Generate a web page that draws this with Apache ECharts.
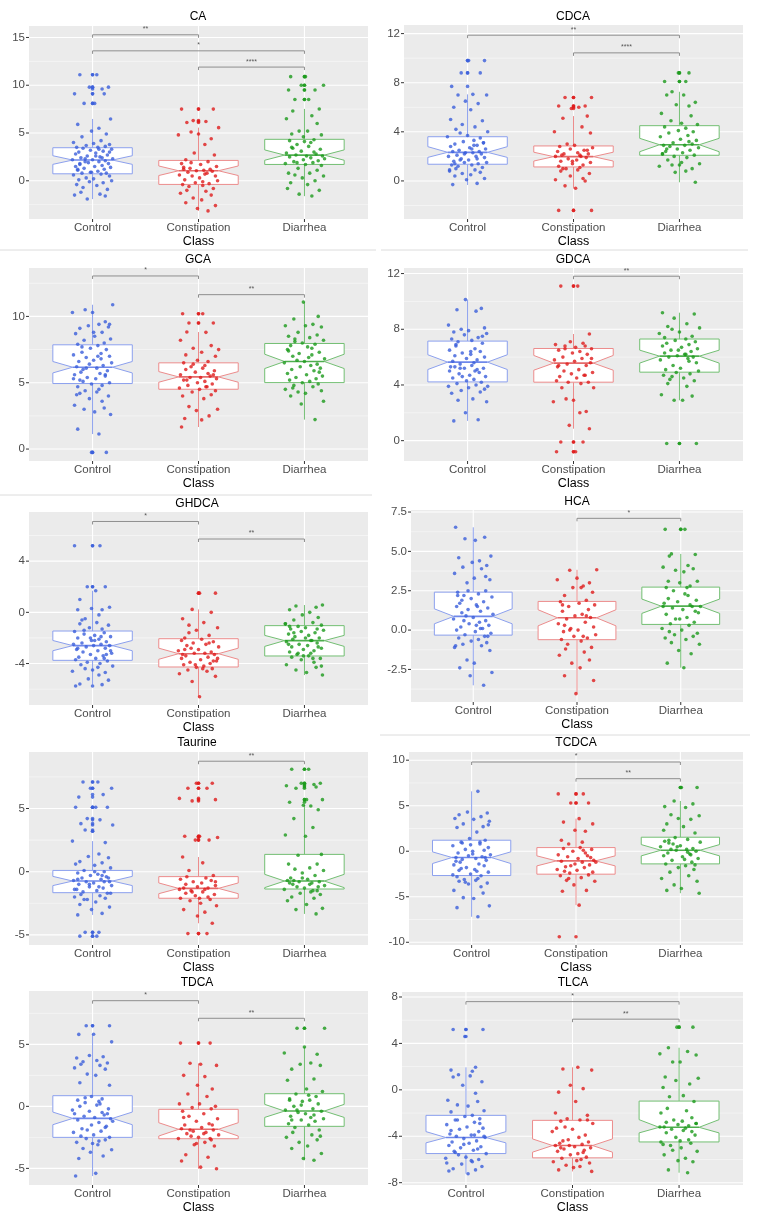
<!DOCTYPE html>
<html><head><meta charset="utf-8">
<script src="https://cdn.jsdelivr.net/npm/echarts@6/dist/echarts.min.js"></script>
<style>html,body{margin:0;padding:0;background:#fff}#c{width:761px;height:1221px}</style>
</head><body><div id="c"></div>
<script>
const CATEGORIES = ['Control','Constipation','Diarrhea'];
const PANEL_TITLES = ['CA','CDCA','GCA','GDCA','GHDCA','HCA','Taurine','TCDCA','TDCA','TLCA'];
const Y_TICKS = [[0,5,10,15],[0,4,8,12],[0,5,10],[0,4,8,12],[-4,0,4],[-2.5,0,2.5,5,7.5],[-5,0,5],[-10,-5,0,5,10],[-5,0,5],[-8,-4,0,4,8]];
const Y_RANGE = [[-4.0,16.2],[-3.1,12.7],[-0.9,13.65],[-1.46,12.4],[-7.24,7.84],[-4.57,7.63],[-5.8,9.47],[-10.3,10.9],[-6.34,9.3],[-8.2,8.43]];

// box stats per group: [lowerWhisker, q1, notchLow, median, notchHigh, q3, upperWhisker]
const CA_BOX = [[-1.92,0.73,1.72,2.17,2.62,3.46,6.47],[-3.15,-0.38,0.55,1.05,1.55,2.13,5.56],[-1.61,1.71,2.15,2.69,3.23,4.34,7.52]];
const CDCA_BOX = [[-0.33,1.36,1.92,2.33,2.79,3.6,7.05],[-0.6,1.14,1.62,1.98,2.34,2.85,5.28],[-0.11,2.09,2.38,2.95,3.47,4.5,7.26]];
const GCA_BOX = [[1.13,4.94,5.74,6.17,6.6,7.86,10.88],[1.66,4.51,5.04,5.44,5.84,6.5,8.82],[2.22,5.01,6.07,6.6,7.15,7.96,11.08]];
const GDCA_BOX = [[1.42,4.22,5.11,5.64,6.17,7.15,10.13],[0.86,4.2,5.06,5.57,6.12,6.62,7.66],[2.9,4.92,5.57,6.07,6.5,7.3,9.19]];
const GHDCA_BOX = [[-5.65,-3.75,-3.0,-2.6,-2.2,-1.46,1.69],[-6.59,-4.27,-3.67,-3.23,-2.8,-2.06,0.23],[-4.9,-3.41,-2.66,-2.21,-1.8,-1.04,0.57]];
const HCA_BOX = [[-3.51,-0.32,0.4,0.87,1.35,2.41,6.53],[-4.04,-0.61,0.27,0.78,1.29,1.82,3.83],[-2.39,0.36,1.06,1.52,1.97,2.73,4.84]];
const TAURINE_BOX = [[-3.42,-1.66,-1.1,-0.74,-0.37,0.1,2.42],[-4.08,-2.1,-1.74,-1.32,-0.89,-0.39,1.16],[-3.34,-1.37,-1.26,-0.74,-0.21,1.37,5.26]];
const TCDCA_BOX = [[-7.2,-2.67,-1.35,-0.69,-0.07,1.21,6.58],[-5.92,-2.52,-1.61,-1.06,-0.51,0.4,3.58],[-4.61,-1.39,-0.51,0.11,0.73,1.54,5.52]];
const TDCA_BOX = [[-5.62,-2.5,-1.48,-0.97,-0.46,0.86,5.81],[-5.03,-2.61,-2.39,-1.85,-1.32,-0.24,3.47],[-4.35,-1.61,-0.89,-0.38,0.16,1.02,4.78]];
const TLCA_BOX = [[-7.23,-5.49,-4.57,-4.11,-3.6,-2.2,1.94],[-7.03,-5.86,-5.37,-4.8,-4.23,-2.63,1.94],[-7.14,-4.49,-3.71,-3.23,-2.57,-0.97,3.63]];

// significance brackets: [fromGroup, toGroup, y, label]
const CA_SIG = [[0,1,15.28,'**'],[0,2,13.6,'*'],[1,2,11.9,'****']];
const CDCA_SIG = [[0,2,11.87,'**'],[1,2,10.43,'****']];
const GCA_SIG = [[0,1,13.05,'*'],[1,2,11.64,'**']];
const GDCA_SIG = [[1,2,11.81,'**']];
const GHDCA_SIG = [[0,1,7.1,'*'],[1,2,5.73,'**']];
const HCA_SIG = [[1,2,7.1,'*']];
const TAURINE_SIG = [[1,2,8.74,'**']];
const TCDCA_SIG = [[0,2,9.8,'*'],[1,2,7.97,'**']];
const TDCA_SIG = [[0,1,8.52,'*'],[1,2,7.1,'**']];
const TLCA_SIG = [[0,2,7.6,'*'],[1,2,6.09,'**']];

// horizontal jitter offsets (category units)
const JITTER = [0.04,-0.12,0.15,-0.03,0.09,-0.17,0.11,-0.08,0.02,0.17,-0.14,0.06,-0.01,0.13,-0.10,0.08,-0.18,0.01,0.16,-0.06,0.12,-0.15,0.05,-0.09,0.18,-0.02,0.10,-0.13,0.03,-0.16,0.14,-0.05,0.07,-0.11,0.19,-0.07,0.00,-0.19,0.12,0.06,-0.04,0.15,-0.12,0.09,-0.16,0.02,0.17,-0.08,0.11,-0.14,0.05,-0.02,0.13,-0.10,0.08,-0.18,0.16,-0.06,0.01,-0.13,0.18,-0.03,0.10,-0.15,0.04,-0.09,0.14,-0.11,0.07,-0.17,0.12,-0.05,0.03,-0.12,0.16,-0.01,0.09,-0.14,0.06,-0.07];

const CA_CONTROL = [11.1,11.1,9.8,9.8,9.6,9.1,9.1,8.1,8.1,6.47,5.9,5.5,5.2,4.9,4.6,4.2,4.0,3.9,3.8,3.7,3.6,3.5,3.5,3.4,3.3,3.2,3.1,3.0,2.9,2.8,2.7,2.6,2.5,2.4,2.3,2.3,2.2,2.2,2.1,2.0,1.9,1.8,1.7,1.6,1.5,1.5,1.4,1.3,1.2,1.1,1.0,0.9,0.8,0.8,0.7,0.6,0.5,0.3,0.2,0.1,0.0,-0.1,-0.2,-0.4,-0.5,-0.7,-0.9,-1.2,-1.4,-1.5,-1.6,-1.9,2.6,1.8,3.0,0.9,2.4,1.2,3.3,2.0];
const CA_CONSTIPATION = [7.5,7.5,6.3,6.2,6.1,5.56,5.1,4.9,4.8,4.4,3.8,2.9,2.7,2.2,2.0,1.8,1.7,1.5,1.3,1.2,1.2,1.1,1.05,1.0,0.9,0.8,0.6,0.5,0.5,0.3,0.1,0.0,-0.2,-0.3,-0.4,-0.5,-0.6,-0.8,-1.0,-1.1,-1.3,-1.5,-1.8,-2.0,-2.3,-2.6,-2.9,-3.15,1.4,0.7,1.9,-0.1];
const CA_DIARRHEA = [10.9,10.9,10.0,10.0,9.5,9.5,8.5,8.5,7.52,7.3,6.8,6.5,6.0,5.2,5.2,4.9,4.8,4.6,4.3,4.2,4.0,3.8,3.6,3.5,3.3,3.1,3.0,2.9,2.8,2.7,2.6,2.6,2.5,2.4,2.2,2.1,2.0,1.9,1.8,1.7,1.6,1.3,1.1,0.8,0.8,0.6,0.5,0.3,0.0,-0.2,-0.4,-0.8,-1.0,-1.4,-1.6,3.4,2.3,1.9,4.1];

const CDCA_CONTROL = [9.8,9.8,8.8,8.8,7.7,7.05,7.0,7.0,6.5,6.3,6.0,5.8,5.0,4.9,4.6,4.4,4.2,4.0,3.9,3.7,3.6,3.5,3.3,3.2,3.1,3.0,2.9,2.8,2.7,2.6,2.5,2.4,2.4,2.3,2.3,2.2,2.1,2.0,2.0,1.9,1.8,1.7,1.6,1.5,1.5,1.4,1.3,1.3,1.2,1.1,1.0,0.9,0.8,0.7,0.6,0.5,0.4,0.2,0.1,-0.2,-0.3,2.9,1.7,2.6,1.4,3.1,2.2,1.8,0.9];
const CDCA_CONSTIPATION = [6.8,6.8,6.1,6.1,6.0,5.9,5.28,5.1,4.4,4.0,3.9,3.0,2.9,2.8,2.7,2.6,2.5,2.4,2.3,2.2,2.2,2.1,2.0,2.0,1.9,1.8,1.7,1.6,1.5,1.4,1.3,1.2,1.1,1.0,0.9,0.8,0.6,0.4,0.2,0.1,0.0,-0.4,-0.6,-2.4,-2.4,2.1,1.6,2.5,1.0];
const CDCA_DIARRHEA = [8.8,8.8,8.1,8.1,7.26,7.0,7.0,6.4,6.2,6.1,5.5,5.3,4.9,4.7,4.6,4.4,4.3,4.1,4.0,3.9,3.7,3.6,3.4,3.3,3.1,3.0,2.9,2.9,2.8,2.7,2.6,2.5,2.4,2.3,2.2,2.1,2.0,1.9,1.7,1.4,1.3,1.3,1.2,1.0,0.8,0.7,-0.11,2.6,3.2,2.2,1.5];

const GCA_CONTROL = [10.88,10.5,10.3,10.3,9.6,9.4,9.3,9.2,9.1,8.8,8.7,8.5,8.3,8.2,8.0,7.9,7.8,7.6,7.5,7.3,7.2,7.1,7.0,6.9,6.7,6.6,6.5,6.4,6.3,6.2,6.1,6.0,5.9,5.8,5.7,5.6,5.5,5.4,5.3,5.2,5.0,4.9,4.8,4.7,4.5,4.4,4.3,4.2,4.0,3.8,3.6,3.3,3.1,3.0,2.8,2.6,1.5,1.13,-0.25,-0.25,7.7,6.8,5.3,8.8,9.4,6.1,5.6,4.1,7.0,5.1];
const GCA_CONSTIPATION = [10.2,10.2,9.5,9.5,8.82,8.8,8.2,7.8,7.6,7.3,7.1,7.0,6.7,6.6,6.5,6.3,6.2,6.1,6.0,5.9,5.8,5.7,5.6,5.5,5.4,5.4,5.3,5.2,5.1,5.0,4.9,4.8,4.7,4.6,4.5,4.4,4.3,4.1,4.0,3.8,3.2,3.0,2.9,2.5,2.3,2.2,1.66,5.6,6.4,4.7,5.2,7.5];
const GCA_DIARRHEA = [11.08,10.0,9.8,9.4,9.3,9.3,9.2,8.8,8.6,8.5,8.4,8.3,8.2,8.0,7.9,7.8,7.7,7.5,7.3,7.2,7.1,7.0,6.8,6.7,6.6,6.5,6.4,6.3,6.2,6.1,6.0,5.9,5.7,5.6,5.5,5.4,5.3,5.2,5.1,5.0,4.9,4.8,4.7,4.5,4.4,4.3,4.2,4.0,3.6,3.4,2.22,7.4,6.9,8.1,5.8,4.6,7.6];

const GDCA_CONTROL = [10.13,9.5,9.4,9.3,8.3,8.1,8.0,7.9,7.8,7.7,7.6,7.4,7.3,7.2,7.1,7.0,6.8,6.6,6.5,6.4,6.3,6.2,6.1,6.0,5.9,5.8,5.7,5.6,5.5,5.4,5.3,5.2,5.2,5.1,5.0,4.9,4.8,4.7,4.6,4.5,4.4,4.3,4.2,4.1,4.0,3.9,3.8,3.7,3.6,3.5,3.4,3.0,2.9,2.8,2.0,1.5,1.42,6.4,5.3,7.5,4.6,5.0,6.9,3.9,5.2];
const GDCA_CONSTIPATION = [11.1,11.1,7.66,7.1,7.0,6.9,6.8,6.8,6.7,6.6,6.5,6.4,6.3,6.2,6.0,5.9,5.8,5.7,5.6,5.5,5.4,5.3,5.1,5.0,4.9,4.8,4.7,4.6,4.5,4.3,4.2,4.2,4.1,3.8,3.8,3.0,2.9,2.8,2.1,2.0,1.1,0.86,-0.1,-0.1,-0.8,-0.8,5.9,6.6,4.7,5.4];
const GDCA_DIARRHEA = [9.19,9.1,8.8,8.4,8.2,8.1,8.0,7.8,7.7,7.5,7.3,7.2,7.1,7.0,6.9,6.8,6.7,6.6,6.5,6.4,6.3,6.2,6.1,6.0,6.0,5.9,5.8,5.6,5.4,5.2,5.1,5.0,4.9,4.8,4.7,4.5,4.4,4.3,4.1,3.9,3.3,3.2,2.9,2.9,-0.2,-0.2,6.5,5.7,7.4,6.2,4.6];

const GHDCA_CONTROL = [5.2,5.2,2.0,2.0,1.69,1.0,0.4,0.3,0.2,0.2,-0.2,-0.5,-0.8,-0.9,-1.0,-1.2,-1.3,-1.5,-1.6,-1.7,-1.8,-1.9,-2.0,-2.1,-2.2,-2.3,-2.4,-2.5,-2.5,-2.6,-2.6,-2.7,-2.8,-2.9,-3.0,-3.1,-3.2,-3.3,-3.4,-3.5,-3.6,-3.7,-3.8,-3.9,-4.0,-4.1,-4.2,-4.4,-4.5,-4.6,-4.7,-4.9,-5.2,-5.3,-5.6,-5.65,-5.75,-2.2,-3.0,-1.4,-3.6,-2.8,-4.3,-2.0,-3.3,-0.6,-1.9];
const GHDCA_CONSTIPATION = [1.5,1.5,0.23,0.0,-0.5,-0.8,-1.0,-1.2,-1.4,-1.8,-2.0,-2.1,-2.2,-2.3,-2.4,-2.5,-2.6,-2.7,-2.8,-2.9,-3.0,-3.1,-3.2,-3.2,-3.3,-3.4,-3.5,-3.6,-3.7,-3.8,-3.9,-4.0,-4.1,-4.2,-4.3,-4.4,-4.5,-4.6,-4.8,-5.0,-5.4,-6.59,-2.9,-3.6,-4.1,-2.4,-3.3,-4.4,-1.6,-3.8];
const GHDCA_DIARRHEA = [0.57,0.5,0.4,0.2,0.0,-0.2,-0.4,-0.6,-0.8,-0.9,-1.0,-1.1,-1.2,-1.3,-1.4,-1.5,-1.6,-1.7,-1.8,-1.9,-2.0,-2.1,-2.2,-2.3,-2.4,-2.5,-2.6,-2.7,-2.8,-2.9,-3.0,-3.1,-3.2,-3.3,-3.4,-3.5,-3.6,-3.7,-3.9,-4.1,-4.3,-4.5,-4.7,-4.9,-1.1,-2.2,-3.4,-2.7,-1.6,-3.6,-0.9,-2.0,-4.2,-3.2,-1.3,-2.5];

const HCA_CONTROL = [6.53,5.9,5.8,5.7,4.7,4.6,4.4,4.3,4.1,4.0,3.9,3.6,3.3,3.2,3.0,2.5,2.4,2.3,2.2,2.1,2.0,1.8,1.7,1.6,1.5,1.4,1.3,1.2,1.1,1.0,0.9,0.8,0.7,0.6,0.5,0.4,0.3,0.2,0.1,0.0,-0.1,-0.2,-0.3,-0.4,-0.5,-0.6,-0.7,-0.8,-0.9,-1.0,-1.1,-1.3,-1.9,-2.1,-2.4,-2.7,-2.9,-3.51,2.2,1.5,0.6,-0.4,1.9,0.1,-1.0,3.4,2.5,0.3];
const HCA_CONSTIPATION = [3.83,3.8,3.3,3.2,3.0,2.8,2.7,2.4,2.2,1.9,1.8,1.7,1.6,1.5,1.3,1.2,1.0,0.9,0.8,0.7,0.5,0.4,0.2,0.1,0.0,-0.1,-0.3,-0.4,-0.5,-0.6,-0.7,-0.9,-1.1,-1.2,-1.4,-1.6,-1.9,-2.1,-2.4,-2.9,-3.2,-4.04,0.9,1.6,-0.4,0.0,2.7,0.3];
const HCA_DIARRHEA = [6.4,6.4,4.84,4.8,4.7,4.1,4.0,3.9,3.8,3.7,3.1,3.1,3.0,2.8,2.7,2.7,2.5,2.3,2.0,1.9,1.8,1.6,1.5,1.5,1.4,1.3,1.1,1.0,0.8,0.7,0.5,0.4,0.3,0.1,0.0,-0.2,-0.3,-0.4,-0.5,-0.6,-0.8,-0.9,-1.3,-1.5,-2.1,-2.39,1.7,1.2,0.7,2.2,-0.1,1.5];

const TAURINE_CONTROL = [7.1,7.1,6.6,6.6,6.1,5.9,5.1,5.1,5.1,4.2,4.1,3.8,3.7,3.3,3.2,2.42,2.3,1.4,1.2,1.1,0.8,0.7,0.6,0.5,0.3,0.1,0.0,-0.1,-0.2,-0.3,-0.4,-0.5,-0.6,-0.7,-0.8,-0.8,-0.9,-1.0,-1.1,-1.2,-1.3,-1.4,-1.5,-1.6,-1.7,-1.8,-1.9,-2.0,-2.1,-2.2,-2.4,-2.6,-2.8,-3.0,-3.3,-3.42,-4.8,-4.8,-5.1,-5.1,-0.5,-1.0,-0.3,-1.4,-0.8,-2.2,0.0,-1.7,-0.6,-1.2];
const TAURINE_CONSTIPATION = [7.0,7.0,6.6,6.6,5.8,5.7,5.6,2.8,2.8,2.7,2.5,2.5,1.16,0.7,0.1,-0.3,-0.4,-0.5,-0.6,-0.7,-0.8,-0.9,-1.0,-1.1,-1.2,-1.3,-1.3,-1.4,-1.5,-1.6,-1.7,-1.8,-1.9,-2.0,-2.1,-2.2,-2.3,-2.5,-2.7,-3.0,-3.2,-3.5,-4.08,-4.9,-4.9,-1.4,-2.1,-0.8,-1.6];
const TAURINE_DIARRHEA = [8.1,8.1,7.0,7.0,6.9,6.8,6.7,6.6,5.7,5.7,5.5,5.2,5.26,4.9,4.2,3.5,2.9,2.8,1.37,1.3,0.6,0.6,0.3,0.2,0.1,-0.1,-0.3,-0.5,-0.6,-0.7,-0.8,-0.8,-0.9,-1.0,-1.1,-1.2,-1.3,-1.4,-1.5,-1.6,-1.7,-1.8,-2.0,-2.1,-2.3,-2.6,-2.9,-3.0,-3.34,-0.9,-1.0,-0.5,-1.2,-0.7,-1.5];

const TCDCA_CONTROL = [6.58,4.3,4.2,4.0,3.8,3.6,3.5,3.3,3.0,2.7,2.6,2.1,1.4,1.2,1.0,0.8,0.6,0.4,0.2,0.0,-0.2,-0.4,-0.5,-0.6,-0.7,-0.8,-0.9,-1.0,-1.2,-1.4,-1.5,-1.6,-1.8,-2.0,-2.1,-2.3,-2.5,-2.7,-2.8,-3.0,-3.1,-3.2,-3.3,-3.5,-3.6,-3.9,-4.3,-4.6,-5.1,-5.2,-6.0,-6.2,-7.2,0.7,-0.7,-1.9,1.0,-2.6,-0.3,2.9,-3.4,0.1,-1.1,-2.2,0.9];
const TCDCA_CONSTIPATION = [6.3,6.3,5.3,5.3,3.58,3.2,3.0,2.3,2.2,1.2,1.0,0.8,0.4,0.3,0.2,0.0,-0.2,-0.4,-0.5,-0.6,-0.8,-1.0,-1.1,-1.2,-1.4,-1.5,-1.7,-1.8,-2.0,-2.1,-2.3,-2.4,-2.6,-2.7,-2.9,-3.2,-3.3,-3.7,-4.3,-4.4,-5.92,-9.4,-0.7,-1.6,0.1,-2.2,-1.2,-3.0];
const TCDCA_DIARRHEA = [7.0,7.0,5.52,5.2,4.9,4.8,4.0,3.9,3.6,3.5,3.0,2.7,2.3,2.0,1.5,1.3,1.2,1.0,0.8,0.6,0.5,0.3,0.2,0.1,0.0,-0.2,-0.3,-0.5,-0.6,-0.8,-1.0,-1.2,-1.4,-1.6,-1.8,-2.0,-2.3,-2.7,-3.0,-3.3,-3.7,-4.1,-4.3,-4.61,0.5,-0.4,1.1,-0.9,0.2,-1.5,0.9,-0.1];

const TDCA_CONTROL = [6.5,6.5,5.81,5.8,5.2,4.1,4.0,3.9,3.7,3.6,3.5,3.4,3.3,3.1,3.0,2.6,2.5,1.9,1.7,0.8,0.6,0.5,0.4,0.3,0.1,0.0,-0.2,-0.4,-0.5,-0.6,-0.7,-0.8,-0.9,-1.0,-1.1,-1.3,-1.5,-1.6,-1.8,-2.0,-2.1,-2.3,-2.5,-2.6,-2.7,-2.9,-3.1,-3.4,-3.5,-3.7,-4.0,-4.2,-5.4,-5.62,-0.6,-1.9,0.2,-2.4,-1.2,0.7,-3.0,-0.3,-1.7,-2.8];
const TDCA_CONSTIPATION = [5.1,5.1,3.47,3.4,3.3,2.5,2.4,1.7,1.4,1.0,0.8,0.2,0.2,0.0,-0.1,-0.2,-0.4,-0.6,-0.8,-1.0,-1.2,-1.4,-1.5,-1.7,-1.8,-1.9,-2.0,-2.1,-2.2,-2.3,-2.4,-2.5,-2.6,-2.7,-2.9,-3.1,-3.2,-3.9,-4.1,-4.4,-4.9,-5.03,-1.9,-2.6,-0.9,-2.2,-3.0,-1.5];
const TDCA_DIARRHEA = [6.3,6.3,4.78,4.3,4.2,3.5,3.4,3.3,3.0,2.2,2.1,1.4,1.2,1.0,0.8,0.6,0.5,0.4,0.2,0.0,-0.2,-0.3,-0.4,-0.5,-0.6,-0.8,-1.0,-1.1,-1.2,-1.4,-1.5,-1.7,-1.9,-2.1,-2.3,-2.5,-2.7,-2.9,-3.2,-3.4,-3.8,-4.2,-4.35,0.5,-0.9,-0.3,0.9,-1.1,-2.4,0.1,-0.7];

const TLCA_CONTROL = [5.2,5.2,4.6,1.94,1.7,1.6,1.3,1.2,1.1,0.7,0.4,-0.3,-0.9,-1.0,-1.3,-1.4,-1.8,-1.9,-2.2,-2.3,-2.5,-2.6,-2.8,-3.0,-3.2,-3.3,-3.4,-3.6,-3.8,-3.9,-4.0,-4.1,-4.2,-4.4,-4.5,-4.6,-4.8,-4.9,-5.0,-5.2,-5.3,-5.5,-5.6,-5.8,-5.9,-6.0,-6.2,-6.4,-6.6,-6.8,-6.9,-7.0,-7.23,-4.0,-2.6,-5.1,-3.5,-6.1,-4.7,-2.9,-5.4,-3.9,-6.3];
const TLCA_CONSTIPATION = [1.94,1.8,1.7,0.4,0.1,-0.2,-1.0,-2.0,-2.2,-2.5,-2.6,-2.7,-2.9,-3.2,-3.4,-3.6,-3.9,-4.1,-4.3,-4.5,-4.6,-4.7,-4.8,-4.9,-5.0,-5.1,-5.2,-5.3,-5.5,-5.6,-5.8,-5.9,-6.0,-6.2,-6.3,-6.5,-6.7,-6.9,-7.03,-4.8,-5.4,-3.3,-6.1,-4.4,-2.6,-5.0,-6.6];
const TLCA_DIARRHEA = [5.4,5.4,3.63,3.3,3.1,3.0,2.4,2.4,1.1,1.0,0.8,0.5,0.2,-0.5,-0.6,-1.0,-1.6,-1.8,-2.0,-2.4,-2.6,-2.7,-2.8,-2.9,-3.0,-3.1,-3.2,-3.3,-3.4,-3.5,-3.7,-3.9,-4.1,-4.3,-4.5,-4.6,-4.8,-5.0,-5.3,-5.6,-5.9,-6.1,-6.2,-6.9,-7.14,-3.2,-4.4,-2.9,-5.2,-3.6,-4.7];

// ---- assembly ----
const PANELS = [
  {box: CA_BOX, sig: CA_SIG, groups: [CA_CONTROL, CA_CONSTIPATION, CA_DIARRHEA]},
  {box: CDCA_BOX, sig: CDCA_SIG, groups: [CDCA_CONTROL, CDCA_CONSTIPATION, CDCA_DIARRHEA]},
  {box: GCA_BOX, sig: GCA_SIG, groups: [GCA_CONTROL, GCA_CONSTIPATION, GCA_DIARRHEA]},
  {box: GDCA_BOX, sig: GDCA_SIG, groups: [GDCA_CONTROL, GDCA_CONSTIPATION, GDCA_DIARRHEA]},
  {box: GHDCA_BOX, sig: GHDCA_SIG, groups: [GHDCA_CONTROL, GHDCA_CONSTIPATION, GHDCA_DIARRHEA]},
  {box: HCA_BOX, sig: HCA_SIG, groups: [HCA_CONTROL, HCA_CONSTIPATION, HCA_DIARRHEA]},
  {box: TAURINE_BOX, sig: TAURINE_SIG, groups: [TAURINE_CONTROL, TAURINE_CONSTIPATION, TAURINE_DIARRHEA]},
  {box: TCDCA_BOX, sig: TCDCA_SIG, groups: [TCDCA_CONTROL, TCDCA_CONSTIPATION, TCDCA_DIARRHEA]},
  {box: TDCA_BOX, sig: TDCA_SIG, groups: [TDCA_CONTROL, TDCA_CONSTIPATION, TDCA_DIARRHEA]},
  {box: TLCA_BOX, sig: TLCA_SIG, groups: [TLCA_CONTROL, TLCA_CONSTIPATION, TLCA_DIARRHEA]}
];

// layout (pixels): plot area [left, top, right, bottom], title centre [x, y]
const LAYOUT = [
  [29,26,368,219],[404,25,743,219],
  [29,268,368,461],[404,268,743,461],
  [29,512,368,705],[411,510,743,702],
  [29,752,368,945],[409,752,743,945],
  [29,991,368,1185],[402,992,743,1185]
];
const TITLE_POS = [[198,17],[573,17],[198,260],[573,260],[197,504],[577,502],[197,743],[576,743],[197,983],[573,983]];

const FONT = '"Liberation Sans", Arial, Helvetica, sans-serif';
const POINT_COL = ['#3a5edb','#de1c1c','#1c9a1c'];
const BOX_COL = ['#8ca0ee','#ec8c8c','#73bf73'];
const MED_COL = ['#6f88ea','#e56a6a','#4fae4f'];
const BOX_HALF = 0.375, NOTCH_INSET = 0.1875;
const TICK_COL = '#333333';

const grids = [], xAxes = [], yAxes = [], series = [], graphics = [];

PANELS.forEach((p, k) => {
  const L = LAYOUT[k];
  const ticks = Y_TICKS[k];
  const range = Y_RANGE[k];
  const step = ticks[1] - ticks[0];
  const minors = ticks.map(t => t - step / 2).concat([ticks[ticks.length - 1] + step / 2])
    .filter(v => v > range[0] && v < range[1]);
  const decimals = ticks.some(t => Math.round(t) !== t);

  grids.push({left: L[0], top: L[1], width: L[2] - L[0], height: L[3] - L[1],
    show: true, backgroundColor: '#ebebeb', borderWidth: 0, containLabel: false});

  xAxes.push({type: 'value', gridIndex: k, min: -0.6, max: 2.6,
    splitLine: {show: false}, axisLine: {show: false}, axisTick: {show: false},
    axisLabel: {customValues: [0, 1, 2], formatter: v => CATEGORIES[Math.round(v)],
      fontSize: 11.5, color: '#4d4d4d', margin: 3, fontFamily: FONT},
    name: 'Class', nameLocation: 'middle', nameGap: 13,
    nameTextStyle: {fontSize: 12.5, color: '#000', fontFamily: FONT}});

  yAxes.push({type: 'value', gridIndex: k, min: range[0], max: range[1],
    splitLine: {show: false}, axisLine: {show: false}, axisTick: {show: false},
    axisLabel: {customValues: ticks, formatter: v => decimals ? v.toFixed(1) : String(v),
      fontSize: 11.5, color: '#4d4d4d', margin: 4, fontFamily: FONT}});

  // panel grid lines and axis ticks
  series.push({type: 'custom', xAxisIndex: k, yAxisIndex: k, silent: true, z: 1, clip: false,
    data: [[0, 0]],
    renderItem: (params, api) => {
      const cs = params.coordSys;
      const ch = [];
      const bottom = cs.y + cs.height;
      minors.forEach(v => {
        const y = api.coord([0, v])[1];
        ch.push({type: 'line', shape: {x1: cs.x, y1: y, x2: cs.x + cs.width, y2: y}, style: {stroke: '#fafafa', lineWidth: 0.6}});
      });
      ticks.forEach(v => {
        const y = api.coord([0, v])[1];
        ch.push({type: 'line', shape: {x1: cs.x, y1: y, x2: cs.x + cs.width, y2: y}, style: {stroke: '#ffffff', lineWidth: 1.1}});
        ch.push({type: 'line', shape: {x1: cs.x - 3, y1: y, x2: cs.x, y2: y}, style: {stroke: TICK_COL, lineWidth: 1}});
      });
      [0, 1, 2].forEach(c => {
        const x = api.coord([c, 0])[0];
        ch.push({type: 'line', shape: {x1: x, y1: cs.y, x2: x, y2: bottom}, style: {stroke: '#ffffff', lineWidth: 1.1}});
        ch.push({type: 'line', shape: {x1: x, y1: bottom, x2: x, y2: bottom + 3}, style: {stroke: TICK_COL, lineWidth: 1}});
      });
      return {type: 'group', children: ch};
    }});

  // notched boxes
  series.push({type: 'custom', xAxisIndex: k, yAxisIndex: k, silent: true, z: 2,
    data: p.box.map((b, gi) => [gi].concat(b)),
    encode: {x: 0, y: [1, 2, 3, 4, 5, 6, 7]},
    renderItem: (params, api) => {
      const gi = api.value(0);
      const X = dx => api.coord([gi + dx, 0])[0];
      const Y = i => api.coord([gi, api.value(i)])[1];
      const xl = X(-BOX_HALF), xr = X(BOX_HALF), xc = X(0), xli = X(-BOX_HALF + NOTCH_INSET), xri = X(BOX_HALF - NOTCH_INSET);
      const yLW = Y(1), yQ1 = Y(2), yNL = Y(3), yMed = Y(4), yNH = Y(5), yQ3 = Y(6), yHW = Y(7);
      const col = BOX_COL[gi];
      return {type: 'group', children: [
        {type: 'line', shape: {x1: xc, y1: yHW, x2: xc, y2: yQ3}, style: {stroke: col, lineWidth: 1}},
        {type: 'line', shape: {x1: xc, y1: yQ1, x2: xc, y2: yLW}, style: {stroke: col, lineWidth: 1}},
        {type: 'polygon', shape: {points: [[xl, yQ3], [xr, yQ3], [xr, yNH], [xri, yMed], [xr, yNL], [xr, yQ1], [xl, yQ1], [xl, yNL], [xli, yMed], [xl, yNH]]},
          style: {fill: '#ffffff', stroke: col, lineWidth: 1}},
        {type: 'line', shape: {x1: xli, y1: yMed, x2: xri, y2: yMed}, style: {stroke: MED_COL[gi], lineWidth: 1.6}}
      ]};
    }});

  p.groups.forEach((vals, gi) => {
    const b = p.box[gi];
    // boxplot outliers, drawn at the category centre
    series.push({type: 'scatter', xAxisIndex: k, yAxisIndex: k, z: 3, silent: true,
      symbol: 'circle', symbolSize: 3.6, itemStyle: {color: POINT_COL[gi]},
      data: vals.filter(v => v > b[6] || v < b[0]).map(v => [gi, v])});
    // jittered points
    const start = (k * 17 + gi * 29) % JITTER.length;
    series.push({type: 'scatter', xAxisIndex: k, yAxisIndex: k, z: 4, silent: true,
      symbol: 'circle', symbolSize: 3.6, itemStyle: {color: POINT_COL[gi]},
      data: vals.map((v, i) => [gi + JITTER[(start + i) % JITTER.length], v])});
  });

  // significance brackets
  series.push({type: 'custom', xAxisIndex: k, yAxisIndex: k, silent: true, z: 5,
    data: p.sig.map(s => [s[0], s[2], s[1]]),
    renderItem: (params, api) => {
      const s = p.sig[params.dataIndex];
      const a = api.coord([s[0], s[2]]), c = api.coord([s[1], s[2]]);
      return {type: 'group', children: [
        {type: 'polyline', shape: {points: [[a[0], a[1] + 3], [a[0], a[1]], [c[0], c[1]], [c[0], c[1] + 3]]},
          style: {stroke: '#8e8e8e', lineWidth: 1, fill: null}},
        {type: 'text', x: (a[0] + c[0]) / 2, y: a[1] - 2,
          style: {text: s[3], fontSize: 7, fontFamily: FONT, fill: '#555555', align: 'center', verticalAlign: 'bottom'}}
      ]};
    }});

  graphics.push({type: 'text', x: TITLE_POS[k][0], y: TITLE_POS[k][1],
    style: {text: PANEL_TITLES[k], fontSize: 12, fontFamily: FONT, fill: '#000', align: 'center', verticalAlign: 'middle'}});
});

// thin separators between the stacked figure pieces
[[0, 250, 376, 250], [381, 250, 748, 250], [0, 495, 372, 495], [380, 735, 750, 735]].forEach(l => {
  graphics.push({type: 'line', shape: {x1: l[0], y1: l[1], x2: l[2], y2: l[3]}, style: {stroke: '#dcdcdc', lineWidth: 1}, silent: true});
});

const chart = echarts.init(document.getElementById('c'), null, {renderer: 'canvas'});
chart.setOption({
  animation: false,
  backgroundColor: '#ffffff',
  textStyle: {fontFamily: FONT},
  grid: grids, xAxis: xAxes, yAxis: yAxes, series: series,
  graphic: graphics
});
</script></body></html>
